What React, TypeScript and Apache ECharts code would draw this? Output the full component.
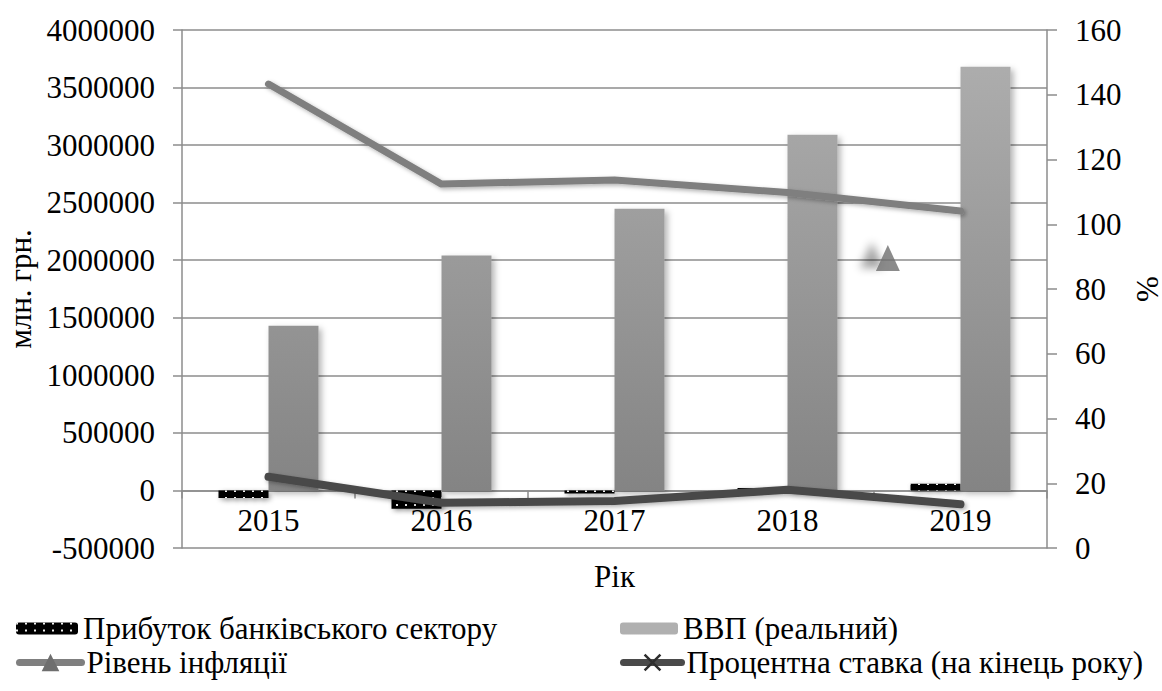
import React, { useEffect, useRef } from 'react';
import * as echarts from 'echarts';

const years = ['2015', '2016', '2017', '2018', '2019'];
const bankProfit = [-66600, -159388, -26507, 21700, 58600];
const gdpReal = [1430000, 2040000, 2447000, 3090000, 3680000];
const inflation = [143.3, 112.4, 113.7, 109.8, 104.1];
const interestRate = [22, 14, 14.5, 18, 13.5];
const strayMarker = [[3.58, 89.6]];

const leftMin = -500000;
const leftMax = 4000000;
const leftStep = 500000;
const rightMin = 0;
const rightMax = 160;
const rightStep = 20;

const FONT = 'Liberation Serif';
const FS = 31;
const AXIS_COLOR = '#8c8c8c';
const CROSS =
  'path://M0,1 L1,0 L5,4 L9,0 L10,1 L6,5 L10,9 L9,10 L5,6 L1,10 L0,9 L4,5 Z';

const GRID_TOP = 30;
const GRID_BOTTOM = 143;
const PLOT_H = 691 - GRID_TOP - GRID_BOTTOM;
const ZERO_OFFSET = -PLOT_H * (0 - leftMin) / (leftMax - leftMin);

export default function App() {
  const ref = useRef<HTMLDivElement>(null);
  useEffect(() => {
    if (!ref.current) return;
    const chart = echarts.init(ref.current, undefined, { renderer: 'svg' });
    const lab = { fontFamily: FONT, fontSize: FS, color: '#000' };
    const legendBase = {
      orient: 'horizontal',
      padding: 0,
      textStyle: lab,
      selectedMode: false,
      lineStyle: { width: 7 },
    };
    chart.setOption({
      animation: false,
      backgroundColor: '#fff',
      textStyle: { fontFamily: FONT, fontSize: FS },
      grid: {
        left: 182, right: 115, top: GRID_TOP, bottom: GRID_BOTTOM,
        containLabel: false, outerBoundsMode: 'none',
      },
      legend: [
        { ...legendBase, itemWidth: 62, itemHeight: 12, left: 16, top: 613, data: ['Прибуток банківського сектору'] },
        { ...legendBase, itemWidth: 58, itemHeight: 12, left: 620, top: 613, data: ['ВВП (реальний)'] },
        { ...legendBase, itemWidth: 62, itemHeight: 22, left: 16, top: 647, data: ['Рівень інфляції'] },
        { ...legendBase, itemWidth: 58, itemHeight: 22, left: 620, top: 647, data: ['Процентна ставка (на кінець року)'] },
      ],
      xAxis: [
        {
          type: 'category',
          data: years,
          offset: ZERO_OFFSET,
          name: 'Рік',
          nameLocation: 'middle',
          nameGap: 71,
          nameTextStyle: lab,
          axisLine: { onZero: false, lineStyle: { color: AXIS_COLOR, width: 1.5 } },
          axisTick: { show: true, length: 8, lineStyle: { color: AXIS_COLOR, width: 1.5 } },
          axisLabel: { ...lab, margin: 15 },
          splitLine: { show: false },
        },
        {
          type: 'value',
          min: -0.5,
          max: 4.5,
          show: false,
          axisLine: { onZero: false },
        },
      ],
      yAxis: [
        {
          type: 'value',
          min: leftMin,
          max: leftMax,
          interval: leftStep,
          name: 'млн. грн.',
          nameLocation: 'middle',
          nameRotate: 90,
          nameGap: 145,
          nameTextStyle: lab,
          axisLine: { show: true, onZero: false, lineStyle: { color: AXIS_COLOR, width: 1.5 } },
          axisTick: { show: true, length: 9, lineStyle: { color: AXIS_COLOR, width: 1.5 } },
          axisLabel: { ...lab, margin: 27, formatter: (v: number) => String(v) },
          splitLine: { show: true, lineStyle: { color: AXIS_COLOR, width: 1.5 } },
        },
        {
          type: 'value',
          min: rightMin,
          max: rightMax,
          interval: rightStep,
          position: 'right',
          name: '%',
          nameLocation: 'middle',
          nameRotate: 90,
          nameGap: 76,
          nameTextStyle: lab,
          axisLine: { show: true, onZero: false, lineStyle: { color: AXIS_COLOR, width: 1.5 } },
          axisTick: { show: true, length: 10, lineStyle: { color: AXIS_COLOR, width: 1.5 } },
          axisLabel: { ...lab, margin: 28, formatter: (v: number) => String(v) },
          splitLine: { show: false },
        },
      ],
      series: [
        {
          name: 'Прибуток банківського сектору',
          type: 'bar',
          data: bankProfit,
          xAxisIndex: 0,
          yAxisIndex: 0,
          barWidth: 50,
          barGap: '0%',
          itemStyle: {
            color: '#000',
            shadowBlur: 5,
            shadowColor: 'rgba(0,0,0,0.35)',
            shadowOffsetX: 2,
            shadowOffsetY: 2,
            decal: {
              symbol: 'rect',
              symbolSize: 1,
              color: 'rgba(255,255,255,0.95)',
              dashArrayX: [2, 7],
              dashArrayY: [2, 5],
              rotation: 0,
            },
          },
        },
        {
          name: 'ВВП (реальний)',
          type: 'bar',
          data: gdpReal,
          xAxisIndex: 0,
          yAxisIndex: 0,
          barWidth: 50,
          barGap: '0%',
          itemStyle: {
            color: new echarts.graphic.LinearGradient(
              0, 30, 0, 490,
              [
                { offset: 0, color: '#b0b0b0' },
                { offset: 1, color: '#848484' },
              ],
              true
            ),
            shadowBlur: 6,
            shadowColor: 'rgba(0,0,0,0.3)',
            shadowOffsetX: 3,
            shadowOffsetY: 3,
          },
        },
        {
          name: 'Рівень інфляції',
          type: 'line',
          data: inflation,
          xAxisIndex: 0,
          yAxisIndex: 1,
          symbol: 'triangle',
          symbolSize: 16,
          showSymbol: false,
          itemStyle: { color: '#6e6e6e' },
          lineStyle: {
            color: '#7f7f7f',
            width: 7,
            cap: 'round',
            join: 'round',
            shadowBlur: 4,
            shadowColor: 'rgba(0,0,0,0.3)',
            shadowOffsetX: 2,
            shadowOffsetY: 2,
          },
          z: 3,
        },
        {
          name: 'Процентна ставка (на кінець року)',
          type: 'line',
          data: interestRate,
          xAxisIndex: 0,
          yAxisIndex: 1,
          symbol: CROSS,
          symbolSize: 16,
          showSymbol: false,
          itemStyle: { color: '#2e2e2e' },
          lineStyle: {
            color: '#4a4a4a',
            width: 8,
            cap: 'round',
            join: 'round',
            shadowBlur: 4,
            shadowColor: 'rgba(0,0,0,0.3)',
            shadowOffsetX: 2,
            shadowOffsetY: 2,
          },
          z: 4,
        },
        {
          name: 'marker',
          type: 'scatter',
          data: strayMarker,
          xAxisIndex: 1,
          yAxisIndex: 1,
          symbol: 'triangle',
          symbolSize: [24, 26],
          itemStyle: {
            color: '#6e6e6e',
            shadowBlur: 8,
            shadowColor: 'rgba(0,0,0,0.45)',
            shadowOffsetX: -16,
            shadowOffsetY: -3,
          },
          z: 5,
          silent: true,
        },
      ],
    });
    return () => chart.dispose();
  }, []);
  return <div ref={ref} style={{ width: 1162, height: 691, position: 'absolute', left: 0, top: 0 }} />;
}
